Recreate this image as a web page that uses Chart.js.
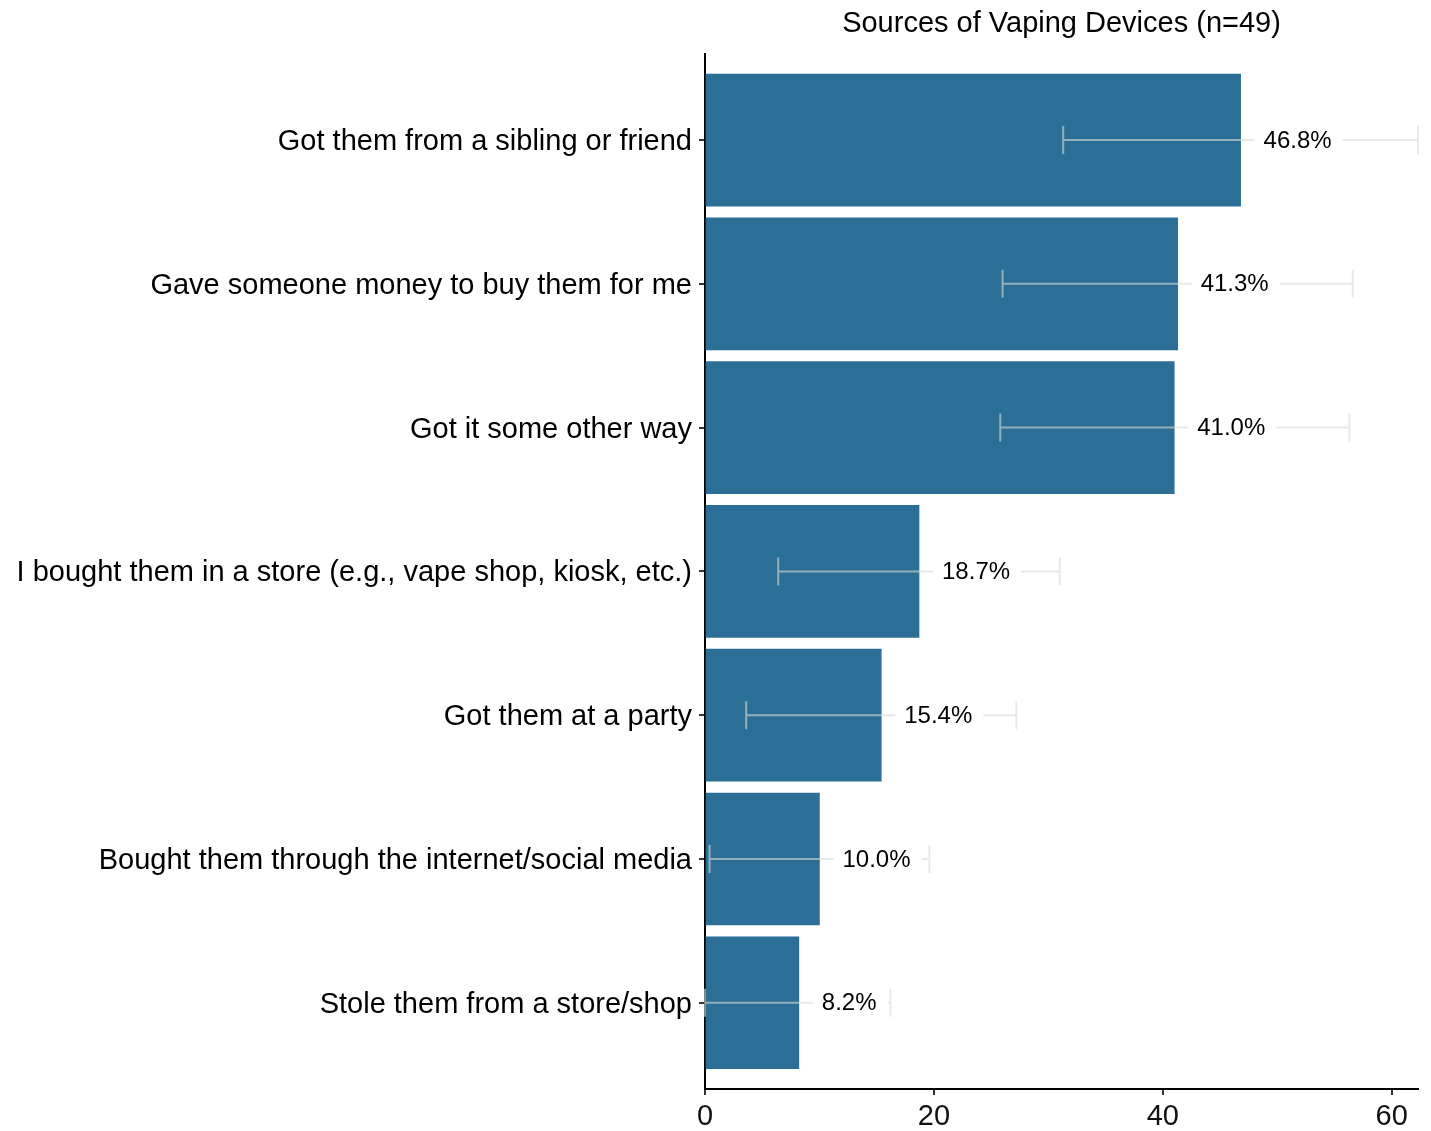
<!DOCTYPE html>
<html>
<head>
<meta charset="utf-8">
<script src="https://cdn.jsdelivr.net/npm/chart.js@4.4.0/dist/chart.umd.min.js"></script>
<style>
  body { margin: 0; background: #fff; }
  #wrap { width: 1431px; height: 1131px; }
</style>
</head>
<body>
<div id="wrap"><canvas id="sourcesChart" width="1431" height="1131"></canvas></div>
<script>
// data
var categories = [
    'Got them from a sibling or friend',
    'Gave someone money to buy them for me',
    'Got it some other way',
    'I bought them in a store (e.g., vape shop, kiosk, etc.)',
    'Got them at a party',
    'Bought them through the internet/social media',
    'Stole them from a store/shop'
];
var percents = [46.8, 41.3, 41.0, 18.7, 15.4, 10.0, 8.2];
var ciLower = [31.3, 26.0, 25.8, 6.4, 3.6, 0.4, 0.0];
var ciUpper = [62.3, 56.6, 56.3, 31.0, 27.2, 19.6, 16.2];
var xTicks = [0, 20, 40, 60];
var titleText = 'Sources of Vaping Devices (n=49)';

var FONT = '"Liberation Sans", Arial, Helvetica, sans-serif';

// error bars + value labels, drawn through the chart scales
var errorBarPlugin = {
    id: 'errorBars',
    afterDatasetsDraw: function (chart) {
        var ctx = chart.ctx;
        var xs = chart.scales.x;
        var ys = chart.scales.y;
        ctx.save();
        ctx.strokeStyle = 'rgba(215,222,215,0.6)';
        ctx.lineWidth = 2;
        for (var i = 0; i < percents.length; i++) {
            var y = ys.getPixelForValue(i);
            var x0 = xs.getPixelForValue(ciLower[i]);
            var x1 = xs.getPixelForValue(ciUpper[i]);
            ctx.beginPath();
            ctx.moveTo(x0, y); ctx.lineTo(x1, y);
            ctx.moveTo(x0, y - 14); ctx.lineTo(x0, y + 14);
            ctx.moveTo(x1, y - 14); ctx.lineTo(x1, y + 14);
            ctx.stroke();
        }
        ctx.font = '24px ' + FONT;
        ctx.textBaseline = 'middle';
        ctx.textAlign = 'left';
        for (var j = 0; j < percents.length; j++) {
            var yy = ys.getPixelForValue(j);
            var xe = xs.getPixelForValue(percents[j]);
            var txt = percents[j].toFixed(1) + '%';
            var w = ctx.measureText(txt).width;
            var tx = xe + 23;
            ctx.fillStyle = '#fff';
            ctx.fillRect(tx - 9, yy - 14, w + 20, 28);
            ctx.fillStyle = '#000';
            ctx.fillText(txt, tx, yy + 1);
        }
        ctx.restore();
    }
};

var ctx1 = document.getElementById('sourcesChart').getContext('2d');
var sourcesChart = new Chart(ctx1, {
    type: 'bar',
    data: {
        datasets: [{
            data: percents.map(function (v, i) { return { x: v, y: i }; }),
            backgroundColor: '#2b6f97',
            borderWidth: 0,
            barThickness: 132
        }]
    },
    options: {
        indexAxis: 'y',
        responsive: false,
        animation: false,
        layout: { padding: { left: 0, right: 13, top: 0, bottom: 0 } },
        plugins: {
            legend: { display: false },
            tooltip: { enabled: false },
            title: {
                display: true,
                text: titleText,
                fullSize: false,
                color: '#000',
                font: { family: FONT, size: 29, weight: 'normal' },
                padding: { top: 7, bottom: 12 }
            }
        },
        scales: {
            x: {
                type: 'linear',
                min: 0,
                max: 62.3,
                afterBuildTicks: function (scale) {
                    scale.ticks = xTicks.map(function (v) { return { value: v }; });
                },
                afterFit: function (scale) { scale.height = 42; },
                border: { display: true, color: '#000', width: 2 },
                grid: { drawOnChartArea: false, drawTicks: true, tickLength: 6, color: '#333', lineWidth: 2 },
                ticks: { color: '#111', font: { family: FONT, size: 29 }, padding: 5, maxRotation: 0 }
            },
            y: {
                type: 'linear',
                reverse: true,
                min: -0.6,
                max: 6.6,
                offset: false,
                afterBuildTicks: function (scale) {
                    scale.ticks = categories.map(function (c, i) { return { value: i }; });
                },
                afterFit: function (scale) { scale.width = 705; },
                border: { display: true, color: '#000', width: 2 },
                grid: { offset: false, drawOnChartArea: false, drawTicks: true, tickLength: 6, color: '#333', lineWidth: 2 },
                ticks: {
                    color: '#000',
                    font: { family: FONT, size: 29 },
                    padding: 7,
                    labelOffset: 2,
                    autoSkip: false,
                    callback: function (value) { return categories[value]; }
                }
            }
        }
    },
    plugins: [errorBarPlugin]
});
</script>
</body>
</html>
